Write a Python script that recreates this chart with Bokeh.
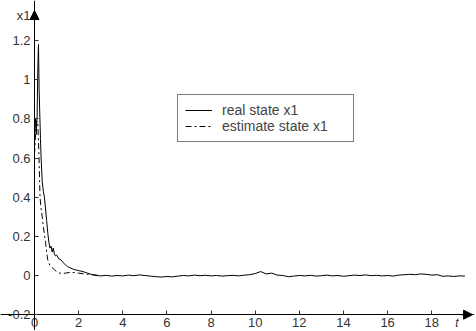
from bokeh.plotting import figure
from bokeh.models import Range1d, FixedTicker, Legend, LegendItem, Arrow, NormalHead, Label
from bokeh.embed import file_html
from bokeh.resources import INLINE

# ---- data ----
t_real_head = [0.0, 0.04, 0.08, 0.12, 0.15, 0.18, 0.21, 0.24, 0.27, 0.3, 0.35, 0.4, 0.45, 0.5,
               0.55, 0.6, 0.65, 0.7, 0.75, 0.8, 0.85, 0.9, 0.95, 1.0, 1.1, 1.2, 1.3, 1.4, 1.5,
               1.6, 1.7, 1.8, 1.9, 2.0, 2.2, 2.4, 2.6, 2.8]
v_real_head = [0.70, 0.80, 0.72, 0.82, 1.05, 1.18, 0.95, 0.82, 0.70, 0.60, 0.48, 0.43, 0.40, 0.34,
               0.28, 0.22, 0.17, 0.14, 0.15, 0.12, 0.14, 0.11, 0.10, 0.105, 0.085, 0.08, 0.065, 0.055, 0.045,
               0.04, 0.035, 0.03, 0.028, 0.025, 0.02, 0.012, 0.005, 0.0]
t_tail = [3.0, 3.25, 3.5, 3.75, 4.0, 4.25, 4.5, 4.75, 5.0, 5.25, 5.5, 5.75, 6.0, 6.25, 6.5, 6.75,
          7.0, 7.25, 7.5, 7.75, 8.0, 8.25, 8.5, 8.75, 9.0, 9.25, 9.5, 9.75, 10.0, 10.25, 10.5, 10.75,
          11.0, 11.25, 11.5, 11.75, 12.0, 12.25, 12.5, 12.75, 13.0, 13.25, 13.5, 13.75, 14.0, 14.25,
          14.5, 14.75, 15.0, 15.25, 15.5, 15.75, 16.0, 16.25, 16.5, 16.75, 17.0, 17.25, 17.5, 17.75,
          18.0, 18.25, 18.5, 18.75, 19.0, 19.25, 19.5]
v_tail = [-0.002, 0.001, -0.003, 0.000, -0.002, 0.002, -0.001, 0.003, 0.000, -0.003, -0.006, -0.008,
          -0.005, -0.007, -0.003, 0.000, -0.002, 0.002, -0.001, 0.001, -0.002, 0.000, -0.003, -0.001,
          0.001, -0.002, 0.002, 0.004, 0.010, 0.020, 0.008, 0.012, 0.002, 0.000, -0.006, -0.003,
          0.000, -0.002, 0.001, -0.003, -0.001, 0.002, -0.002, 0.000, -0.004, -0.001, 0.002, 0.000,
          0.003, -0.001, 0.001, -0.002, 0.000, -0.003, 0.002, 0.004, 0.006, 0.004, 0.008, 0.006,
          0.002, 0.004, -0.004, -0.002, -0.005, -0.002, -0.003]
t_est = [0.0, 0.05, 0.1, 0.15, 0.2, 0.25, 0.3, 0.35, 0.4, 0.45, 0.5, 0.55, 0.6, 0.7, 0.8, 0.9,
         1.0, 1.2, 1.4, 1.6, 1.8, 2.0, 2.5, 3.0]
v_est = [0.62, 0.72, 0.79, 0.78, 0.62, 0.40, 0.34, 0.30, 0.25, 0.21, 0.17, 0.12, 0.08, 0.05, 0.04, 0.03,
         0.02, 0.01, 0.012, 0.016, 0.015, 0.012, 0.005, 0.0]
x_ticks = [0, 2, 4, 6, 8, 10, 12, 14, 16, 18]
y_ticks = [-0.2, 0, 0.2, 0.4, 0.6, 0.8, 1, 1.2]
y_labels = ["-0.2", "0", "0.2", "0.4", "0.6", "0.8", "1", "1.2"]
legend_labels = ["real state x1", "estimate state x1"]

t_real = t_real_head + t_tail
v_real = v_real_head + v_tail

FONT = "Liberation Sans"
W, H = 474, 330

p = figure(width=W, height=H, output_backend="svg", toolbar_location=None,
           x_range=Range1d(-1.5406, -1.5406 + W / 22.07),
           y_range=Range1d(-0.2809, 1.4045),
           min_border_left=0, min_border_right=0, min_border_top=0, min_border_bottom=0)
p.outline_line_color = None
p.grid.visible = False
p.background_fill_color = "white"

for ax in (p.xaxis[0], p.yaxis[0]):
    ax.major_tick_in = 4
    ax.major_tick_out = 0
    ax.minor_tick_line_color = None
    ax.axis_line_color = "black"
    ax.major_tick_line_color = "#333333"
    ax.major_label_text_font = FONT
    ax.major_label_text_font_size = "13px"
    ax.major_label_text_color = "#333333"

p.xaxis.fixed_location = -0.2
p.yaxis.fixed_location = 0
p.xaxis.ticker = FixedTicker(ticks=x_ticks)
p.xaxis.major_label_standoff = 3
p.yaxis.ticker = FixedTicker(ticks=y_ticks)
p.yaxis.major_label_overrides = {k: s for k, s in zip(y_ticks, y_labels)}
p.yaxis.major_label_standoff = 4

r1 = p.line(t_real, v_real, line_color="black", line_width=1)
r2 = p.line(t_est, v_est, line_color="black", line_width=1, line_dash="6 3 2 3")

legend = Legend(items=[LegendItem(label=legend_labels[0], renderers=[r1]),
                       LegendItem(label=legend_labels[1], renderers=[r2])],
                location=(177, 188), glyph_width=27, glyph_height=12, label_standoff=10,
                padding=7, spacing=-3, label_width=124, label_height=12,
                label_text_font=FONT, label_text_font_size="14px",
                border_line_color="black", border_line_width=1,
                background_fill_alpha=1.0, margin=0)
p.add_layout(legend, "center")

p.add_layout(Arrow(end=NormalHead(size=9, fill_color="black", line_color="black"),
                   x_start=0, y_start=1.30, x_end=0, y_end=1.353, line_color="black"))
p.add_layout(Arrow(end=NormalHead(size=9, fill_color="black", line_color="black"),
                   x_start=19.3, y_start=-0.2, x_end=19.85, y_end=-0.2, line_color="black"))

p.add_layout(Label(x=0, y=1.328, x_offset=-4, text="x1", text_align="right", text_baseline="middle",
                   text_font=FONT, text_font_size="13px", text_color="#333333"))
p.add_layout(Label(x=19.14, y=-0.2, y_offset=-1, text="t", text_align="center", text_baseline="top",
                   text_font=FONT, text_font_size="12px", text_font_style="italic",
                   text_color="#333333"))

open("out.html", "w").write(file_html(p, INLINE))
